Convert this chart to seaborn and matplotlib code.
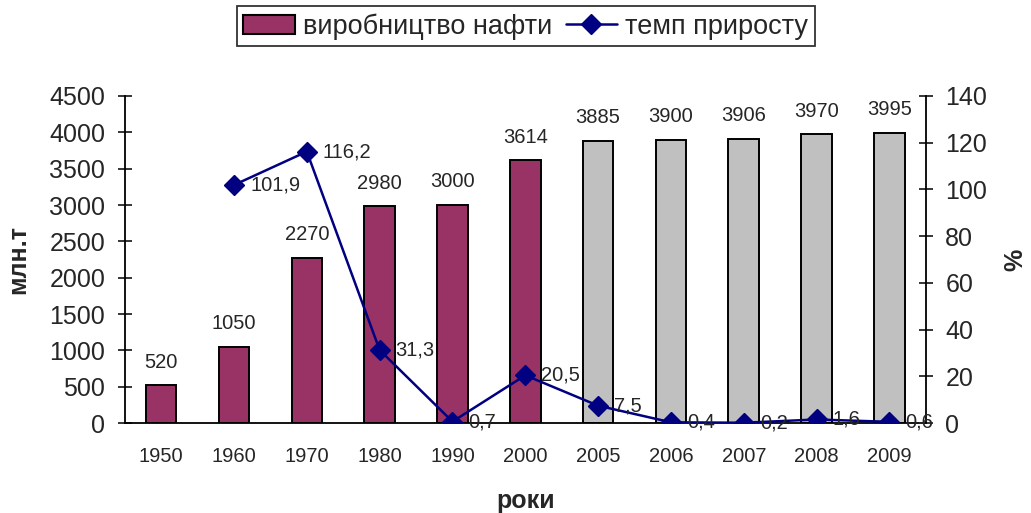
import numpy as np
import pandas as pd
import matplotlib
matplotlib.use("Agg")
import matplotlib.pyplot as plt
import seaborn as sns
from matplotlib.patches import Patch
from matplotlib.lines import Line2D

years = ["1950", "1960", "1970", "1980", "1990", "2000", "2005", "2006", "2007", "2008", "2009"]
production = [520, 1050, 2270, 2980, 3000, 3614, 3885, 3900, 3906, 3970, 3995]
growth = [np.nan, 101.9, 116.2, 31.3, 0.7, 20.5, 7.5, 0.4, 0.2, 1.6, 0.6]
growth_labels = ["", "101,9", "116,2", "31,3", "0,7", "20,5", "7,5", "0,4", "0,2", "1,6", "0,6"]

bar_colors = ["#993366"] * 6 + ["#C0C0C0"] * 5
line_color = "#000080"

sns.set_style("white")
plt.rcParams["font.family"] = ["Liberation Sans", "DejaVu Sans"]

df = pd.DataFrame({"year": years, "prod": production})

fig, ax = plt.subplots(figsize=(10.31, 5.13), dpi=100)
fig.subplots_adjust(left=0.121, right=0.898, top=0.813, bottom=0.175)

sns.barplot(data=df, x="year", y="prod", hue="year", palette=bar_colors,
            legend=False, width=0.42, edgecolor="black", linewidth=1.4,
            saturation=1, ax=ax)

for i, v in enumerate(production):
    ax.text(i, v + 190, str(v), ha="center", va="bottom", fontsize=14.5)

ax.set_ylim(0, 4500)
ax.set_yticks(range(0, 4501, 500))
ax.set_xlim(-0.5, 10.5)
ax.tick_params(axis="y", labelsize=18, direction="inout", length=10, width=1.3, pad=9)
ax.tick_params(axis="x", which="major", length=0, labelsize=14.5, pad=17)
ax.set_xticks(np.arange(-0.5, 10.6, 1), minor=True)
ax.tick_params(axis="x", which="minor", direction="out", length=6, width=1.3)
ax.set_xlabel("роки", fontsize=18, fontweight="bold", labelpad=17)
ax.set_ylabel("млн.т", fontsize=18, fontweight="bold", labelpad=14)
for s in ["top", "right"]:
    ax.spines[s].set_visible(False)
for s in ["left", "bottom"]:
    ax.spines[s].set_linewidth(1.3)
    ax.spines[s].set_color("black")

ax2 = ax.twinx()
x = np.arange(len(years))
ax2.plot(x, growth, color=line_color, lw=1.8, marker="D", markersize=10)
for i, (g, lab) in enumerate(zip(growth, growth_labels)):
    if lab:
        ax2.text(i + 0.22, g, lab, ha="left", va="center", fontsize=14.5)
ax2.set_ylim(0, 140)
ax2.set_yticks(range(0, 141, 20))
ax2.tick_params(axis="y", labelsize=18, direction="inout", length=10, width=1.3, pad=9)
ax2.set_ylabel("%", fontsize=18, fontweight="bold", labelpad=12)
for s in ["top", "left", "bottom"]:
    ax2.spines[s].set_visible(False)
ax2.spines["right"].set_linewidth(1.3)
ax2.spines["right"].set_color("black")

handles = [Patch(facecolor="#993366", edgecolor="black", linewidth=1.5),
           Line2D([0], [0], color=line_color, lw=1.8, marker="D", markersize=10)]
leg = fig.legend(handles, ["виробництво нафти", "темп приросту"], loc="upper center",
                 bbox_to_anchor=(0.51, 0.998), ncol=2, fontsize=19.5, frameon=True,
                 fancybox=False, edgecolor="black", handlelength=1.9, handletextpad=0.3,
                 columnspacing=0.5, borderpad=0.25, borderaxespad=0.2)
leg.get_frame().set_linewidth(1.3)

fig.savefig("out.png", dpi=100)
